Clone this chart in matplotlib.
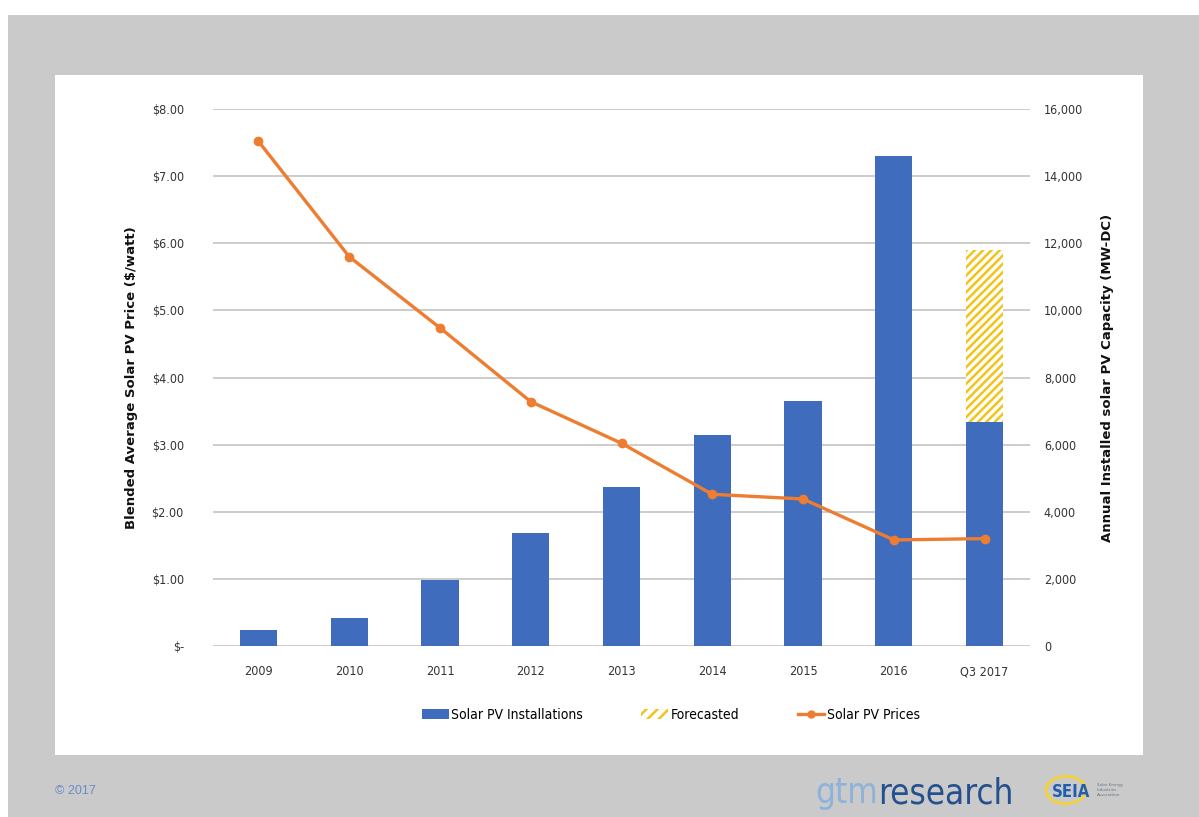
import matplotlib.pyplot as plt
from matplotlib.patches import Rectangle, Circle

years = ['2009', '2010', '2011', '2012', '2013', '2014', '2015', '2016', 'Q3 2017']
installs = [470, 845, 1965, 3365, 4750, 6280, 7300, 14600, 6660]
forecast = [0, 0, 0, 0, 0, 0, 0, 0, 5150]
prices = [7.52, 5.80, 4.74, 3.64, 3.02, 2.26, 2.19, 1.58, 1.60]
price_ticks = [0, 1, 2, 3, 4, 5, 6, 7, 8]
mw_ticks = [0, 2000, 4000, 6000, 8000, 10000, 12000, 14000, 16000]

blue = '#3f6cbc'
orange = '#ed7d31'
yellow = '#f0c419'
narrow = ['Liberation Sans Narrow', 'DejaVu Sans']
plt.rcParams['hatch.linewidth'] = 1.8

W, H = 1199, 817
fig = plt.figure(figsize=(W / 100, H / 100), dpi=100, facecolor='white')

# grey slide background and white chart panel
fig.patches.append(Rectangle((8 / W, 0), 1, 1 - 15 / H, transform=fig.transFigure,
                             facecolor='#cacaca', edgecolor='none', zorder=-3))
fig.patches.append(Rectangle((55 / W, 1 - 755 / H), (1143 - 55) / W, (755 - 75) / H,
                             transform=fig.transFigure, facecolor='white',
                             edgecolor='none', zorder=-2))

ax = fig.add_axes([213 / W, 1 - 646 / H, (1030 - 213) / W, (646 - 109) / H])
ax.patch.set_visible(False)
x = list(range(len(years)))
ax.bar(x, installs, width=0.41, color=blue, zorder=2)
ax.bar(x, forecast, width=0.41, bottom=installs, facecolor='white',
       edgecolor=yellow, hatch='////', linewidth=0, zorder=2)
ax.set_ylim(0, 16000)
ax.set_xlim(-0.5, len(years) - 0.5)

# twinx resets the tick side, so make it before moving the MW ticks right
ax2 = ax.twinx()

ax.set_yticks(mw_ticks)
ax.set_yticklabels(['{:,}'.format(v) for v in mw_ticks])
ax.yaxis.tick_right()
ax.yaxis.set_label_position('right')
ax.grid(axis='y', color='#c4c4c4', linewidth=1.2, zorder=0)
ax.set_axisbelow(True)
for s in ['top', 'left', 'right', 'bottom']:
    ax.spines[s].set_visible(False)
ax.tick_params(axis='both', length=0)
ax.tick_params(axis='y', pad=10)
ax.tick_params(axis='x', pad=14)
ax.set_xticks(x)
ax.set_xticklabels(years)
for t in ax.get_xticklabels() + ax.get_yticklabels():
    t.set_family(narrow)
    t.set_stretch('condensed')
    t.set_fontsize(9)
    t.set_color('#333333')
ax.set_ylabel('Annual Installed solar PV Capacity (MW-DC)', fontsize=9.5,
              fontweight='bold', labelpad=13, rotation=90, color='#111111')

ax2.plot(x, prices, color=orange, linewidth=2.4, marker='o', markersize=6,
         zorder=3)
ax2.set_ylim(0, 8)
ax2.set_yticks(price_ticks)
ax2.set_yticklabels(['$-' if v == 0 else '${:.2f}'.format(v) for v in price_ticks])
ax2.yaxis.tick_left()
ax2.yaxis.set_label_position('left')
for s in ['top', 'left', 'right', 'bottom']:
    ax2.spines[s].set_visible(False)
ax2.tick_params(axis='y', length=0, pad=21)
for t in ax2.get_yticklabels():
    t.set_family(narrow)
    t.set_stretch('condensed')
    t.set_fontsize(9)
    t.set_color('#333333')
ax2.set_ylabel('Blended Average Solar PV Price ($/watt)', fontsize=9.5,
               fontweight='bold', labelpad=10, color='#111111')

# legend
h1 = Rectangle((0, 0), 1, 1, facecolor=blue, edgecolor='none')
h2 = Rectangle((0, 0), 1, 1, facecolor='white', edgecolor=yellow, hatch='///', linewidth=0)
h3 = plt.Line2D([], [], color=orange, linewidth=2.4, marker='o', markersize=5)
fig.legend([h1, h2, h3], ['Solar PV Installations', 'Forecasted', 'Solar PV Prices'],
           loc='center', bbox_to_anchor=(671 / W, 1 - 715 / H), ncol=3,
           frameon=False, handlelength=1.9, handletextpad=0.2, columnspacing=4.2,
           prop={'family': narrow, 'size': 10, 'stretch': 'condensed'})

# footer
fig.text(55 / W, 1 - 791 / H, '\u00a9 2017', fontsize=9, color='#6a8cc8',
         va='center', family=['Liberation Sans', 'DejaVu Sans'])
gtm = fig.text(815 / W, 1 - 793 / H, 'gtm', fontsize=25, color='#8db3dc',
               va='center', family=narrow, stretch='condensed')
fig.add_artist(plt.Annotation('research', xy=(1, 0), xycoords=gtm, va='bottom',
                              fontsize=25, color='#24508f', family=narrow,
                              stretch='condensed'))
fig.patches.append(Circle((1066 / W, 1 - 790 / H), 20 / W, transform=fig.transFigure,
                          facecolor='none', edgecolor='#f3d23a', linewidth=2))
fig.text(1052 / W, 1 - 792 / H, 'SEIA', fontsize=12, fontweight='bold',
         color='#1f5fae', va='center', family=narrow, stretch='condensed')
fig.text(1097 / W, 1 - 790 / H, 'Solar Energy\nIndustries\nAssociation', fontsize=3,
         color='#667788', va='center', linespacing=1.2)

fig.savefig('out.png', dpi=100, facecolor=fig.get_facecolor())
